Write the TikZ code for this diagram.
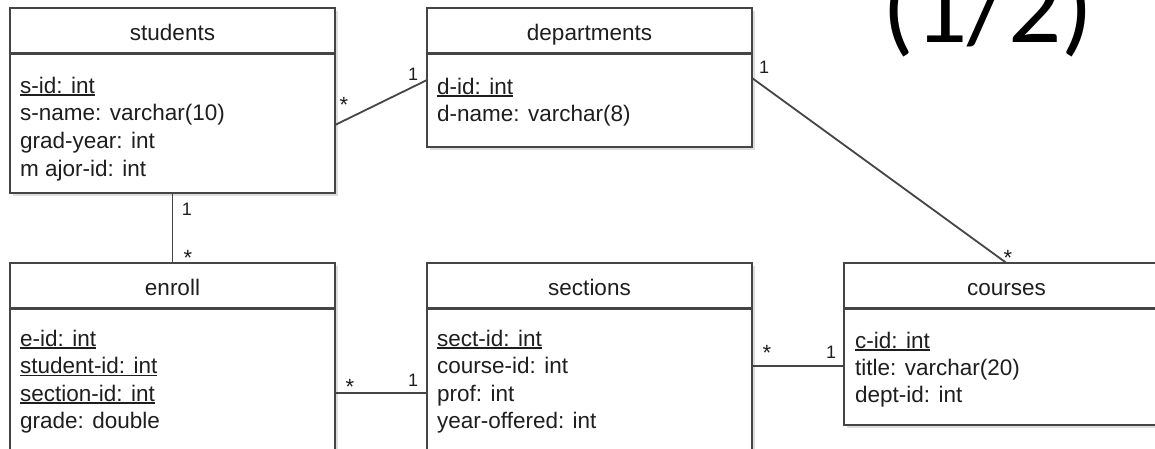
\documentclass[tikz,border=0pt]{standalone}
\usepackage{fontspec}
\setmainfont{Liberation Sans}
\newfontfamily\calib{Carlito}
\usetikzlibrary{calc,shadows}
\definecolor{linec}{HTML}{454545}
\definecolor{txtc}{HTML}{1E1E1E}
\newcommand\keyattr[1]{\setbox0\hbox{#1}\rlap{\rule[-2.6pt]{\wd0}{1.3pt}}\box0}
\begin{document}
\begin{tikzpicture}[x=1pt,y=-1pt,
  tbl/.style={draw=linec, line width=2.2pt, fill=white, minimum width=325pt,
    anchor=north west, inner sep=0pt, outer sep=0pt,
    drop shadow={shadow xshift=2.5pt, shadow yshift=-2.5pt, fill=black!13, opacity=1}},
  hdr/.style={anchor=base, inner sep=0pt, text=txtc, font=\fontsize{22.5}{27}\selectfont},
  attr/.style={anchor=base west, inner sep=0pt, text=txtc, font=\fontsize{22.5}{27}\selectfont},
  divider/.style={draw=linec, line width=2.2pt},
  conn/.style={draw=linec, line width=1.8pt},
  mult/.style={anchor=base, inner sep=0pt, text=txtc, font=\fontsize{18}{20}\selectfont},
  star/.style={anchor=base, inner sep=0pt, text=txtc, font=\fontsize{22}{24}\selectfont}]
\clip (0,0) rectangle (1155,448);
\fill[white] (0,0) rectangle (1155,448);

% big title fragment
\node[anchor=base, inner sep=0pt, font=\calib\fontsize{105}{105}\selectfont] (title) at (988,42) {(1/2)};

% tables
\node[tbl, minimum height=185pt] (students) at (10,8) {};
\node[tbl, minimum height=139pt] (departments) at (427,8) {};
\node[tbl, minimum height=200pt] (enroll) at (10,263) {};
\node[tbl, minimum height=200pt] (sections) at (427,263) {};
\node[tbl, minimum height=162pt] (courses) at (844,263) {};

\foreach \t in {students,departments,enroll,sections,courses}{
  \draw[divider] ($(\t.north west)+(0,45.5)$) -- ($(\t.north east)+(0,45.5)$);
}

% headers
\node[hdr] (students-h) at ($(students.north)+(0,32)$) {students};
\node[hdr] (departments-h) at ($(departments.north)+(0,32)$) {departments};
\node[hdr] (enroll-h) at ($(enroll.north)+(0,32)$) {enroll};
\node[hdr] (sections-h) at ($(sections.north)+(0,32)$) {sections};
\node[hdr] (courses-h) at ($(courses.north)+(0,32)$) {courses};

% attributes
\node[attr] (s1) at ($(students.north west)+(10,85)$) {\keyattr{s-id: int}};
\node[attr] (s2) at ($(students.north west)+(10,112.7)$) {s-name: varchar(10)};
\node[attr] (s3) at ($(students.north west)+(10,140.4)$) {grad-year: int};
\node[attr] (s4) at ($(students.north west)+(10,168.1)$) {m ajor-id: int};

\node[attr] (d1) at ($(departments.north west)+(10,86)$) {\keyattr{d-id: int}};
\node[attr] (d2) at ($(departments.north west)+(10,113.2)$) {d-name: varchar(8)};

\node[attr] (e1) at ($(enroll.north west)+(10,83)$) {\keyattr{e-id: int}};
\node[attr] (e2) at ($(enroll.north west)+(10,110.5)$) {\keyattr{student-id: int}};
\node[attr] (e3) at ($(enroll.north west)+(10,138)$) {\keyattr{section-id: int}};
\node[attr] (e4) at ($(enroll.north west)+(10,165.5)$) {grade: double};

\node[attr] (x1) at ($(sections.north west)+(10,83)$) {\keyattr{sect-id: int}};
\node[attr] (x2) at ($(sections.north west)+(10,110.5)$) {course-id: int};
\node[attr] (x3) at ($(sections.north west)+(10,138)$) {prof: int};
\node[attr] (x4) at ($(sections.north west)+(10,165.5)$) {year-offered: int};

\node[attr] (c1) at ($(courses.north west)+(11,85)$) {\keyattr{c-id: int}};
\node[attr] (c2) at ($(courses.north west)+(11,112)$) {title: varchar(20)};
\node[attr] (c3) at ($(courses.north west)+(11,139)$) {dept-id: int};

% connector end points
\coordinate (sd-a) at ($(students.north east)+(0,117)$);
\coordinate (sd-b) at ($(departments.north west)+(0,72)$);
\coordinate (dc-a) at ($(departments.north east)+(0,70)$);
\coordinate (es-a) at ($(enroll.north east)+(0,130)$);
\coordinate (es-b) at ($(sections.north west)+(0,130)$);
\coordinate (sc-a) at ($(sections.north east)+(0,103)$);
\coordinate (sc-b) at ($(courses.north west)+(0,103)$);

\draw[conn] (sd-a) -- (sd-b);
\draw[conn] (students.south) -- (enroll.north);
\draw[conn] (dc-a) -- (courses.north);
\draw[conn] (es-a) -- (es-b);
\draw[conn] (sc-a) -- (sc-b);

% multiplicities
\node[star] (m1) at (344,112) {*};
\node[mult] (m2) at (413,80.5) {1};
\node[mult] (m3) at (187,215.5) {1};
\node[star] (m4) at (188,265) {*};
\node[mult] (m5) at (764,73.5) {1};
\node[star] (m6) at (1008,265) {*};
\node[star] (m7) at (350,394) {*};
\node[mult] (m8) at (413,386.5) {1};
\node[star] (m9) at (767,360) {*};
\node[mult] (m10) at (831,358.5) {1};
\end{tikzpicture}
\end{document}
